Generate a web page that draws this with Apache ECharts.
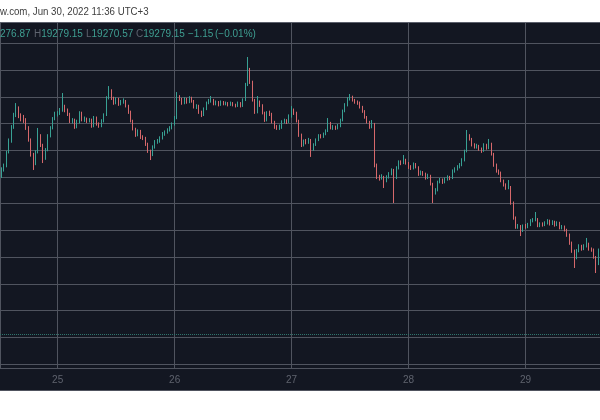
<!DOCTYPE html>
<html><head><meta charset="utf-8">
<script src="https://cdn.jsdelivr.net/npm/echarts@6/dist/echarts.min.js"></script>
<style>html,body{margin:0;padding:0;background:#fff}#c{width:600px;height:420px}</style>
</head><body><div id="c"></div>
<script>
// 30-minute candles, first candle Jun 24 2022 12:30 (UTC+3 chart time)
const candleStart = [2022, 5, 24, 12, 30];
const candleStepMinutes = 30;
// [open, close, low, high]
const ohlc = [
[20780,20815,20740,20840],[20815,20852,20800,20875],[20852,20983,20840,20995],[20983,21086,20970,21110],
[21086,21217,21070,21235],[21217,21329,21200,21350],[21329,21395,21310,21441],[21395,21320,21300,21410],
[21320,21292,21270,21345],[21292,21282,21255,21330],[21282,21208,21190,21300],[21208,21095,21080,21225],
[21095,20955,20940,21110],[20955,20871,20815,20975],[20871,20983,20860,21000],[20983,21133,20970,21208],
[21133,21049,21030,21150],[21049,20927,20880,21060],[20927,21002,20910,21020],[21002,21133,20990,21150],
[21133,21208,21120,21225],[21208,21292,21195,21310],[21292,21339,21280,21360],[21339,21345,21315,21365],
[21345,21376,21330,21395],[21376,21404,21360,21535],[21404,21376,21355,21425],[21376,21339,21320,21390],
[21339,21273,21255,21350],[21273,21280,21250,21300],[21280,21217,21200,21295],[21217,21264,21205,21285],
[21264,21348,21250,21365],[21348,21282,21270,21360],[21282,21292,21265,21315],[21292,21273,21255,21305],
[21273,21282,21260,21300],[21282,21226,21210,21295],[21226,21301,21215,21320],[21301,21245,21230,21315],
[21245,21226,21210,21260],[21226,21273,21215,21290],[21273,21329,21260,21345],[21329,21488,21320,21505],
[21488,21554,21475,21600],[21554,21488,21470,21570],[21488,21441,21425,21500],[21441,21479,21430,21495],
[21479,21432,21415,21490],[21432,21451,21420,21470],[21451,21460,21435,21485],[21460,21413,21400,21470],
[21413,21357,21340,21425],[21357,21273,21260,21370],[21273,21198,21185,21285],[21198,21142,21125,21210],
[21142,21179,21130,21195],[21179,21123,21105,21190],[21123,21114,21095,21140],[21114,21058,21040,21125],
[21058,20992,20975,21070],[20992,20955,20908,21005],[20955,21030,20945,21045],[21030,21077,21015,21095],
[21077,21086,21060,21105],[21086,21114,21070,21130],[21114,21151,21100,21170],[21151,21170,21135,21185],
[21170,21189,21155,21205],[21189,21208,21175,21225],[21208,21245,21195,21260],[21245,21301,21230,21320],
[21301,21498,21290,21544],[21498,21479,21460,21515],[21479,21441,21425,21490],[21441,21479,21430,21495],
[21479,21451,21435,21490],[21451,21488,21440,21505],[21488,21460,21445,21500],[21460,21404,21390,21470],
[21404,21413,21385,21430],[21413,21357,21340,21425],[21357,21329,21310,21370],[21329,21385,21320,21400],
[21385,21441,21375,21455],[21441,21460,21430,21480],[21460,21470,21445,21507],[21470,21432,21420,21480],
[21432,21451,21420,21465],[21451,21423,21410,21460],[21423,21451,21415,21465],[21451,21432,21420,21460],
[21432,21441,21420,21455],[21441,21423,21410,21450],[21423,21441,21415,21455],[21441,21423,21410,21450],
[21423,21413,21400,21435],[21413,21441,21405,21455],[21441,21413,21400,21450],[21413,21469,21405,21485],
[21469,21610,21460,21630],[21610,21750,21600,21872],[21750,21638,21620,21770],[21638,21469,21455,21650],
[21469,21357,21340,21480],[21357,21451,21345,21507],[21451,21423,21405,21465],[21423,21348,21335,21430],
[21348,21282,21265,21360],[21282,21348,21270,21365],[21348,21339,21320,21370],[21339,21264,21250,21350],
[21264,21217,21200,21275],[21217,21208,21190,21235],[21208,21215,21190,21240],[21215,21264,21200,21280],
[21264,21273,21250,21295],[21273,21264,21245,21290],[21264,21320,21255,21335],[21320,21376,21305,21413],
[21376,21348,21330,21390],[21348,21273,21260,21360],[21273,21142,21125,21285],[21142,21049,21030,21155],
[21049,21086,21035,21100],[21086,21077,21055,21105],[21077,21095,21060,21115],[21095,21011,20937,21105],
[21011,21049,20995,21065],[21049,21095,21040,21110],[21095,21133,21085,21150],[21133,21125,21110,21150],
[21125,21151,21115,21165],[21151,21179,21140,21195],[21179,21254,21170,21301],[21254,21208,21195,21265],
[21208,21215,21190,21235],[21215,21208,21190,21230],[21208,21226,21195,21245],[21226,21282,21215,21295],
[21282,21367,21270,21380],[21367,21423,21355,21440],[21423,21479,21410,21495],[21479,21498,21465,21526],
[21498,21469,21455,21510],[21469,21451,21435,21480],[21451,21441,21425,21465],[21441,21404,21390,21455],
[21404,21367,21350,21415],[21367,21311,21295,21375],[21311,21264,21250,21320],[21264,21217,21200,21275],
[21217,21245,21205,21282],[21245,20861,20840,21255],[20861,20749,20730,20875],[20749,20740,20715,20770],
[20740,20749,20725,20775],[20749,20712,20646,20760],[20712,20749,20700,20765],[20749,20777,20735,20795],
[20777,20815,20765,20830],[20815,20740,20506,20825],[20740,20833,20730,20850],[20833,20889,20820,20905],
[20889,20880,20860,20905],[20880,20908,20870,20955],[20908,20880,20865,20920],[20880,20843,20825,20890],
[20843,20833,20815,20860],[20833,20871,20820,20885],[20871,20843,20830,20880],[20843,20777,20760,20850],
[20777,20790,20765,20810],[20790,20777,20760,20805],[20777,20740,20725,20790],[20740,20759,20730,20780],
[20759,20684,20670,20770],[20684,20599,20506,20695],[20599,20628,20585,20645],[20628,20702,20615,20715],
[20702,20721,20690,20740],[20721,20702,20685,20735],[20702,20730,20690,20745],[20730,20749,20715,20765],
[20749,20740,20720,20760],[20740,20805,20730,20820],[20805,20824,20790,20840],[20824,20843,20810,20860],
[20843,20861,20830,20880],[20861,20908,20850,20925],[20908,20992,20895,21005],[20992,21133,20980,21189],
[21133,21105,21090,21150],[21105,21049,21035,21115],[21049,21030,21015,21065],[21030,21039,21015,21060],
[21039,21011,20995,21050],[21011,20992,20975,21025],[20992,21049,20985,21065],[21049,21021,21005,21060],
[21021,21058,21010,21105],[21058,20964,20950,21070],[20964,20861,20845,20975],[20861,20805,20790,20875],
[20805,20787,20770,20820],[20787,20712,20700,20800],[20712,20674,20660,20725],[20674,20646,20630,20690],
[20646,20656,20635,20721],[20656,20506,20490,20665],[20506,20366,20350,20520],[20366,20281,20265,20380],
[20281,20290,20265,20310],[20290,20244,20197,20300],[20244,20291,20235,20305],[20291,20281,20265,20310],
[20281,20300,20270,20320],[20300,20338,20290,20355],[20338,20347,20325,20365],[20347,20355,20335,20422],
[20355,20291,20280,20365],[20291,20310,20280,20325],[20310,20300,20285,20325],[20300,20319,20290,20335],
[20319,20338,20305,20355],[20338,20310,20295,20350],[20310,20328,20300,20345],[20328,20300,20285,20340],
[20300,20319,20290,20335],[20319,20272,20260,20330],[20272,20281,20260,20300],[20281,20253,20240,20295],
[20253,20207,20190,20265],[20207,20132,20115,20220],[20132,20057,20040,20145],[20057,19991,19898,20070],
[19991,20057,19980,20075],[20057,20104,20045,20120],[20104,20076,20060,20115],[20076,20104,20065,20120],
[20104,20122,20090,20179],[20122,20076,20060,20135],[20076,20066,20050,20090],[20066,20001,19985,20080],
[20001,19935,19851,20010],[19935,20066,19925,20080]
];
const lastPrice = 19279.15;
const headerText = 'w.com, Jun 30, 2022 11:36 UTC+3';
const legendOpen = '276.87';
const legendHigh = '19279.15';
const legendLow = '19270.57';
const legendClose = '19279.15';
const legendChange = '−1.15';
const legendChangePct = '(−0.01%)';

const BG = '#131722', GRIDC = '#50545f', UP = '#38a194', DOWN = '#d6686b', TXT = '#3f9f92', KEY = '#5e636f';
const t0 = new Date(candleStart[0], candleStart[1], candleStart[2], candleStart[3], candleStart[4]).getTime();
const seriesData = ohlc.map((r, i) => [t0 + i * candleStepMinutes * 60000, r[0], r[1], r[2], r[3]]);
const xMin = new Date(2022, 5, 24, 12, 10).getTime();
const xMax = new Date(2022, 5, 29, 15, 17).getTime();
const DAY = 86400000;

const chart = echarts.init(document.getElementById('c'), null, {renderer: 'canvas'});
const font = '"Liberation Sans", Arial, sans-serif';
const rich = {
  k: {fill: KEY, fontSize: 10, fontFamily: font},
  v: {fill: TXT, fontSize: 10, fontFamily: font}
};
function legendText(x, str) {
  return {type: 'text', x: x, y: 34, z: 110, style: {text: str, rich: rich, fill: TXT, verticalAlign: 'middle', font: '10px ' + font}};
}
chart.setOption({
  backgroundColor: BG,
  animation: false,
  grid: [
    {left: 0, right: 0, top: 16.6, bottom: 29.3},
    {left: 0, right: 0, top: 22, bottom: 52}
  ],
  xAxis: [
    {type: 'time', gridIndex: 0, min: xMin, max: xMax, show: false},
    {type: 'time', gridIndex: 1, min: xMin, max: xMax, minInterval: DAY, maxInterval: DAY,
     axisLine: {show: true, lineStyle: {color: GRIDC, width: 1}},
     axisTick: {show: false},
     splitLine: {show: true, lineStyle: {color: GRIDC, width: 1}},
     axisLabel: {color: '#5f636e', fontSize: 10, fontFamily: font, margin: 7, showMinLabel: false, showMaxLabel: false,
       formatter: function (v) { const d = new Date(v); return (d.getHours() === 0 && d.getMinutes() === 0) ? String(d.getDate()) : ''; }}
    }
  ],
  yAxis: [
    {type: 'value', gridIndex: 0, min: 18750, max: 22250, interval: 250, position: 'right',
     axisLine: {show: false}, axisTick: {show: false}, axisLabel: {show: false},
     splitLine: {show: true, lineStyle: {color: GRIDC, width: 1}}},
    {type: 'value', gridIndex: 1, show: false}
  ],
  series: [{
    type: 'candlestick',
    xAxisIndex: 0, yAxisIndex: 0,
    data: seriesData,
    barWidth: 1,
    itemStyle: {color: UP, color0: DOWN, borderColor: UP, borderColor0: DOWN, borderWidth: 1},
    markLine: {
      silent: true, symbol: 'none', animation: false,
      label: {show: false},
      lineStyle: {type: 'dotted', color: '#2f746c', width: 1},
      data: [{yAxis: lastPrice}]
    }
  }],
  graphic: [
    {type: 'rect', z: 100, shape: {x: 0, y: 0, width: 600, height: 22}, style: {fill: '#ffffff'}},
    {type: 'rect', z: 100, shape: {x: 0, y: 391, width: 600, height: 29}, style: {fill: '#ffffff'}},
    {type: 'line', z: 101, shape: {x1: 0, y1: 22.5, x2: 600, y2: 22.5}, style: {stroke: '#5c606c', lineWidth: 1}},
    {type: 'text', z: 110, x: 0, y: 12, scaleX: 0.88, style: {text: headerText, fill: '#3d3d3d', font: '11px ' + font, verticalAlign: 'middle'}},
    legendText(0, '{v|' + legendOpen + '}'),
    legendText(34, '{k|H}{v|' + legendHigh + '}'),
    legendText(86, '{k|L}{v|' + legendLow + '}'),
    legendText(136, '{k|C}{v|' + legendClose + '}'),
    legendText(188, '{v|' + legendChange + '}'),
    legendText(215, '{v|' + legendChangePct + '}')
  ]
});
</script></body></html>
